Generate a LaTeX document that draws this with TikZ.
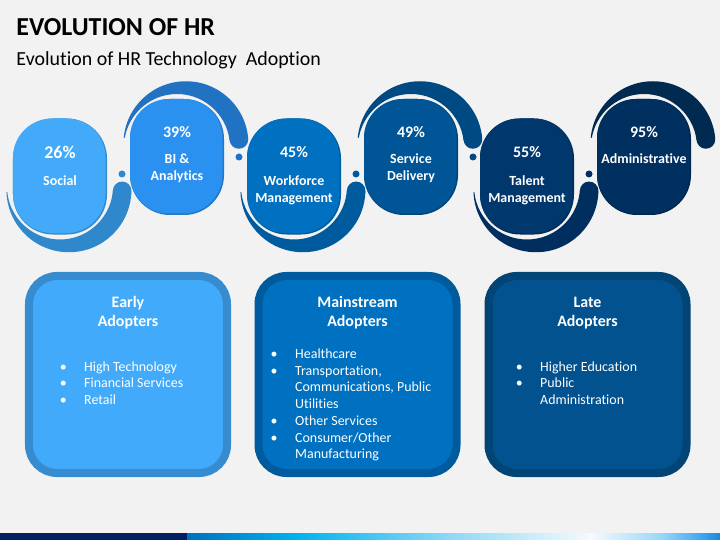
\documentclass[tikz,border=0pt]{standalone}
\usepackage{fontspec}
\setmainfont{Carlito}[Ligatures={NoCommon,NoContextual}]
\usetikzlibrary{calc}
\definecolor{bg}{HTML}{F2F2F2}
\definecolor{navy}{HTML}{002060}
\definecolor{capA}{HTML}{42AAF8}
\definecolor{capB}{HTML}{2B91F0}
\definecolor{capC}{HTML}{0070C0}
\definecolor{capD}{HTML}{005596}
\definecolor{capE}{HTML}{00386E}
\definecolor{capF}{HTML}{003060}
\definecolor{bandA}{HTML}{2F88CC}
\definecolor{bandB}{HTML}{2272C4}
\definecolor{bandC}{HTML}{005A9E}
\definecolor{bandD}{HTML}{004A84}
\definecolor{bandE}{HTML}{002E5E}
\definecolor{bandF}{HTML}{002A50}
\definecolor{boxAin}{HTML}{42AAFA}
\definecolor{boxAbd}{HTML}{378CD0}
\definecolor{boxBin}{HTML}{0070C0}
\definecolor{boxBbd}{HTML}{005A9E}
\definecolor{boxCin}{HTML}{01528F}
\definecolor{boxCbd}{HTML}{014476}
\definecolor{stA}{HTML}{0070C0}
\definecolor{stB}{HTML}{0090D8}
\definecolor{stC}{HTML}{00B4F0}
\definecolor{stD}{HTML}{90D8F5}
\definecolor{stE}{HTML}{F5FAFD}
\definecolor{stF}{HTML}{9AD8F8}
\definecolor{stG}{HTML}{3AA0F0}
\definecolor{stH}{HTML}{1A88D0}
\newcommand{\lowband}[2]{%
  \begin{scope}[shift={(#1,186.5)}]
    \begin{scope}
      \clip (0,0) -- (4:130) -- (45:130) -- (90:130) -- (135:130) -- (174:130) -- cycle;
      \fill[#2, even odd rule] (8.93,3.25) circle[radius=62.5] (0,0) circle[radius=53];
    \end{scope}
    \fill[#2] (4:62.29) circle[radius=9.29];
  \end{scope}}
\newcommand{\upband}[2]{%
  \begin{scope}[shift={(#1,147)}]
    \begin{scope}
      \clip (0,0) -- (190:130) -- (225:130) -- (270:130) -- (315:130) -- (353:130) -- cycle;
      \fill[#2, even odd rule] (8.93,-3.25) circle[radius=62.5] (0,0) circle[radius=53];
    \end{scope}
    \fill[#2] (353:62.36) circle[radius=9.36];
  \end{scope}}
\tikzset{
  capsule/.style={rectangle, rounded corners=40bp, minimum width=94bp, minimum height=116bp, inner sep=0pt},
  capface/.style={rectangle, rounded corners=39bp, minimum width=92.5bp, minimum height=114.5bp, inner sep=0pt},
  dot/.style={circle, minimum size=7bp, inner sep=0pt},
  pct/.style={text=white, font=\bfseries\fontsize{16}{19}\selectfont, inner sep=0pt},
  lab/.style={text=white, font=\bfseries\fontsize{14}{17}\selectfont, inner sep=0pt, anchor=base},
  box/.style={rectangle, rounded corners=28bp, minimum width=198bp, minimum height=197bp, line width=8bp, inner sep=0pt},
  boxtitle/.style={text=white, font=\bfseries\fontsize{16}{19}\selectfont, inner sep=0pt, anchor=base},
  item/.style={text=white, font=\fontsize{14}{17}\selectfont, inner sep=0pt, anchor=base west},
  bul/.style={text=white, font=\fontsize{14}{17}\selectfont, inner sep=0pt, anchor=base},
}
\begin{document}
\begin{tikzpicture}[x=1bp,y=-1bp]
\fill[bg] (0,0) rectangle (720,540);
\useasboundingbox (0,0) rectangle (720,540);
% bottom strip
\fill[navy] (0,533) rectangle (187,540);
\shade[left color=stA, right color=stB] (187,533) rectangle (240.5,540);
\shade[left color=stB, right color=stC] (240,533) rectangle (300.5,540);
\shade[left color=stC, right color=stD] (300,533) rectangle (450.5,540);
\shade[left color=stD, right color=stE] (450,533) rectangle (590.5,540);
\shade[left color=stE, right color=stF] (590,533) rectangle (660.5,540);
\shade[left color=stF, right color=stG] (660,533) rectangle (705.5,540);
\shade[left color=stG, right color=stH] (705,533) rectangle (720,540);
% title
\node[anchor=base west, inner sep=0pt, font=\bfseries\fontsize{26}{30}\selectfont] (title) at (16.3,36) {EVOLUTION OF HR};
\node[anchor=base west, inner sep=0pt, font=\fontsize{20}{24}\selectfont] (subtitle) at (16.3,65.7) {Evolution of HR Technology\ \ Adoption};
% bands
\lowband{60}{bandA}
\upband{177}{bandB}
\lowband{294}{bandC}
\upband{411}{bandD}
\lowband{527}{bandE}
\upband{644}{bandF}
% capsules
\node[capsule, fill=capA!82!black] (c1) at (60,176.5) {};
\node[capface, fill=capA] (f1) at (59.25,175.75) {};
\node[capsule, fill=capB!82!black] (c2) at (177,157) {};
\node[capface, fill=capB] (f2) at (176.25,156.25) {};
\node[capsule, fill=capC!82!black] (c3) at (294,176.5) {};
\node[capface, fill=capC] (f3) at (293.25,175.75) {};
\node[capsule, fill=capD!82!black] (c4) at (411,157) {};
\node[capface, fill=capD] (f4) at (410.25,156.25) {};
\node[capsule, fill=capE!82!black] (c5) at (527,176.5) {};
\node[capface, fill=capE] (f5) at (526.25,175.75) {};
\node[capsule, fill=capF!82!black] (c6) at (644,157) {};
\node[capface, fill=capF] (f6) at (643.25,156.25) {};
% dots
\node[dot, fill=bandA] (d1) at (122,174) {};
\node[dot, fill=bandB] (d2) at (239,157) {};
\node[dot, fill=bandC] (d3) at (356,174) {};
\node[dot, fill=bandD] (d4) at (473,157) {};
\node[dot, fill=bandE] (d5) at (589,174) {};
% capsule texts
\node[pct, font=\bfseries\fontsize{18}{21}\selectfont] (p1) at (60,152) {26\%};
\node[lab] (l1a) at (60,185.5) {Social};
\node[pct] (p2) at (177,132.3) {39\%};
\node[lab] (l2a) at (177,163.2) {BI \&};
\node[lab] (l2b) at (177,180.2) {Analytics};
\node[pct] (p3) at (294,152.3) {45\%};
\node[lab] (l3a) at (294,185.5) {Workforce};
\node[lab] (l3b) at (294,202.2) {Management};
\node[pct] (p4) at (411,132.3) {49\%};
\node[lab] (l4a) at (411,163.8) {Service};
\node[lab] (l4b) at (411,180.5) {Delivery};
\node[pct] (p5) at (527,151.7) {55\%};
\node[lab] (l5a) at (527,185.5) {Talent};
\node[lab] (l5b) at (527,202.2) {Management};
\node[pct] (p6) at (644,132.3) {95\%};
\node[lab] (l6a) at (644,163.5) {Administrative};
% boxes
\node[box, draw=boxAbd, fill=boxAin] (b1) at (128,374.5) {};
\node[box, draw=boxBbd, fill=boxBin] (b2) at (357.5,374.5) {};
\node[box, draw=boxCbd, fill=boxCin] (b3) at (587.5,374.5) {};
\node[boxtitle] (t1a) at (128,307) {Early};
\node[boxtitle] (t1b) at (128,326) {Adopters};
\node[boxtitle] (t2a) at (357.5,307) {Mainstream};
\node[boxtitle] (t2b) at (357.5,326) {Adopters};
\node[boxtitle] (t3a) at (587.5,307) {Late};
\node[boxtitle] (t3b) at (587.5,326) {Adopters};
% box 1 items
\node[bul] (u11) at (63.3,371.2) {\textbullet};
\node[item] (i11) at (84,371.2) {High Technology};
\node[bul] (u12) at (63.3,387.9) {\textbullet};
\node[item] (i12) at (84,387.9) {Financial Services};
\node[bul] (u13) at (63.3,404.6) {\textbullet};
\node[item] (i13) at (84,404.6) {Retail};
% box 2 items
\node[bul] (u21) at (274,358.5) {\textbullet};
\node[item] (i21) at (295,358.5) {Healthcare};
\node[bul] (u22) at (274,375.2) {\textbullet};
\node[item] (i22) at (295,375.2) {Transportation,};
\node[item] (i23) at (295,391.9) {Communications, Public};
\node[item] (i24) at (295,408.6) {Utilities};
\node[bul] (u25) at (274,425.3) {\textbullet};
\node[item] (i25) at (295,425.3) {Other Services};
\node[bul] (u26) at (274,442) {\textbullet};
\node[item] (i26) at (295,442) {Consumer/Other};
\node[item] (i27) at (295,458.7) {Manufacturing};
% box 3 items
\node[bul] (u31) at (519.3,371.2) {\textbullet};
\node[item] (i31) at (540,371.2) {Higher Education};
\node[bul] (u32) at (519.3,387.9) {\textbullet};
\node[item] (i32) at (540,387.9) {Public};
\node[item] (i33) at (540,404.6) {Administration};
\end{tikzpicture}
\end{document}
